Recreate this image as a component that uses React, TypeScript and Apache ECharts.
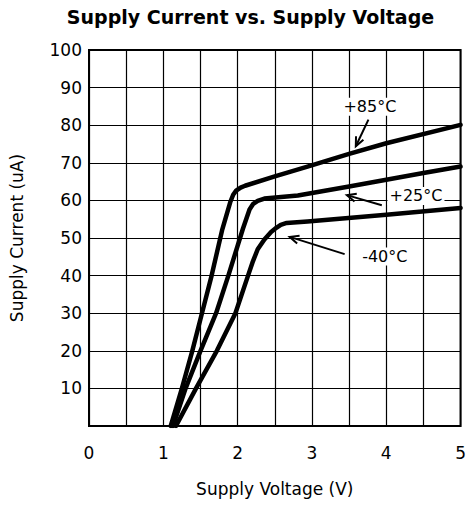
import React, { useEffect, useRef } from "react";
import * as echarts from "echarts";

const titleText = "Supply Current vs. Supply Voltage";
const xAxisName = "Supply Voltage (V)";
const yAxisName = "Supply Current (uA)";

// [voltage (V), current (uA)]
const curve85: number[][] = [
  [1.1, 0], [1.25, 10], [1.39, 20], [1.52, 30], [1.65, 40], [1.79, 52],
  [1.9, 59.5], [1.94, 61.5], [1.98, 62.6], [2.04, 63.4], [2.1, 63.9],
  [2.5, 66.4], [2.94, 69], [3.5, 72.4], [4.0, 75.2], [5.0, 80.1],
];
const curve25: number[][] = [
  [1.13, 0], [1.3, 10], [1.5, 20], [1.71, 30], [1.875, 40], [2.07, 52.4],
  [2.16, 57.6], [2.21, 59.1], [2.27, 59.9], [2.36, 60.5],
  [2.81, 61.3], [3.5, 63.7], [4.5, 67.3], [5.0, 69],
];
const curveM40: number[][] = [
  [1.17, 0], [1.44, 10], [1.72, 20], [1.97, 30], [2.14, 40], [2.2, 43.5],
  [2.27, 47], [2.36, 49.6], [2.45, 51.6], [2.52, 52.7], [2.58, 53.5], [2.66, 54.0],
  [2.94, 54.4], [4.0, 56.2], [5.0, 58],
];

const seriesNames = ["+85°C", "+25°C", "-40°C"];

// annotation: [tailX, tailY, headX, headY, labelX, labelY]
const annotations: number[][] = [
  [3.76, 81.5, 3.59, 74.4, 3.78, 84.9],
  [3.94, 58.7, 3.47, 61.4, 4.4, 61.2],
  [3.44, 45.7, 2.7, 50.3, 3.98, 45.1],
];

const xMin = 0, xMax = 5, xStep = 0.5;
const yMin = 0, yMax = 100, yStep = 10;

export default function App() {
  const ref = useRef<HTMLDivElement>(null);
  useEffect(() => {
    if (!ref.current) return;
    const chart = echarts.init(ref.current, null, { renderer: "svg" });
    const font = "DejaVu Sans";
    const lineSeries = [curve85, curve25, curveM40].map((d, i) => ({
      name: seriesNames[i],
      type: "line",
      data: d,
      showSymbol: false,
      smooth: false,
      lineStyle: { color: "#000", width: 4.5, join: "round", cap: "round" },
      z: 3,
    }));
    chart.setOption({
      animation: false,
      backgroundColor: "#fff",
      title: {
        text: titleText,
        left: 245.5,
        top: 2,
        textAlign: "center",
        textStyle: { fontFamily: font, fontWeight: "bold", fontSize: 19, color: "#000" },
      },
      grid: {
        left: 89, right: 4, top: 50, bottom: 79,
        show: true, borderColor: "#000", borderWidth: 2,
      },
      xAxis: {
        type: "value", min: xMin, max: xMax, interval: xStep,
        name: xAxisName, nameLocation: "middle", nameGap: 54,
        nameTextStyle: { fontFamily: font, fontSize: 17, color: "#000" },
        axisLine: { show: false },
        axisTick: { show: false },
        splitLine: { show: true, lineStyle: { color: "#000", width: 1.2 } },
        axisLabel: {
          fontFamily: font, fontSize: 17, color: "#000", margin: 18,
          formatter: (v: number) => (Number.isInteger(v) ? String(v) : ""),
        },
      },
      yAxis: {
        type: "value", min: yMin, max: yMax, interval: yStep,
        name: yAxisName, nameLocation: "middle", nameGap: 64, nameRotate: 90,
        nameTextStyle: { fontFamily: font, fontSize: 17, color: "#000" },
        axisLine: { show: false },
        axisTick: { show: false },
        splitLine: { show: true, lineStyle: { color: "#000", width: 1.2 } },
        axisLabel: {
          fontFamily: font, fontSize: 17, color: "#000", margin: 7,
          formatter: (v: number) => (v === 0 ? "" : String(v)),
        },
      },
      series: [
        ...lineSeries,
        {
          type: "custom",
          data: annotations,
          z: 5,
          renderItem: (params: any, api: any) => {
            const tail = api.coord([api.value(0), api.value(1)]);
            const head = api.coord([api.value(2), api.value(3)]);
            const lp = api.coord([api.value(4), api.value(5)]);
            const ang = Math.atan2(tail[1] - head[1], tail[0] - head[0]);
            const L = 10, a = 0.42;
            const p1 = [head[0] + L * Math.cos(ang + a), head[1] + L * Math.sin(ang + a)];
            const p2 = [head[0] + L * Math.cos(ang - a), head[1] + L * Math.sin(ang - a)];
            return {
              type: "group",
              children: [
                {
                  type: "line",
                  shape: { x1: tail[0], y1: tail[1], x2: head[0], y2: head[1] },
                  style: { stroke: "#000", lineWidth: 2 },
                },
                {
                  type: "polyline",
                  shape: { points: [p1, head, p2] },
                  style: { stroke: "#000", fill: null, lineWidth: 2 },
                },
                {
                  type: "text",
                  x: lp[0],
                  y: lp[1],
                  style: {
                    text: seriesNames[params.dataIndex],
                    fill: "#000",
                    fontFamily: font,
                    fontSize: 16,
                    align: "center",
                    verticalAlign: "middle",
                    backgroundColor: "#fff",
                    padding: [1, 2],
                  },
                },
              ],
            };
          },
        },
      ],
    });
    return () => chart.dispose();
  }, []);
  return (
    <div
      ref={ref}
      style={{ position: "absolute", left: 0, top: 0, width: 469, height: 505 }}
    />
  );
}
